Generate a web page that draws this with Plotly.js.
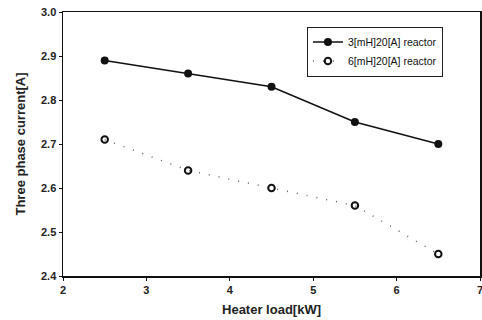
<!DOCTYPE html>
<html><head><meta charset="utf-8">
<script src="https://cdn.plot.ly/plotly-3.0.1.min.js"></script>
<style>body{margin:0;background:#fff}#c{width:482px;height:320px}</style>
</head><body><div id="c"></div>
<script>
const load = [2.5, 3.5, 4.5, 5.5, 6.5];
const current3mH = [2.89, 2.86, 2.83, 2.75, 2.70];
const current6mH = [2.71, 2.64, 2.60, 2.56, 2.45];
const name3 = '3[mH]20[A] reactor';
const name6 = '6[mH]20[A] reactor';

const traces = [
  {x: load, y: current3mH, name: name3, mode: 'lines+markers', type: 'scatter',
   line: {color: '#111', width: 1.5}, marker: {color: '#111', size: 8, symbol: 'circle'}},
  {x: load, y: current6mH, name: name6, mode: 'lines+markers', type: 'scatter',
   line: {color: '#666', width: 1.5, dash: '1px,9px'},
   marker: {color: '#111', size: 6.5, symbol: 'circle-open', line: {color: '#111', width: 2}}}
];
const font = {family: 'Liberation Sans, Arial, sans-serif', color: '#222'};
const layout = {
  width: 482, height: 320,
  margin: {l: 63, r: 2, t: 12, b: 44},
  paper_bgcolor: '#fff', plot_bgcolor: '#fff',
  font: font,
  showlegend: true,
  legend: {x: 0.585, y: 0.945, xanchor: 'left', yanchor: 'top',
    bordercolor: '#222', borderwidth: 1, bgcolor: '#fff',
    font: {family: font.family, size: 10.5, color: '#111'},
    tracegroupgap: 0, itemwidth: 30},
  xaxis: {range: [2, 7], dtick: 1, tick0: 2, showgrid: false, zeroline: false,
    showline: true, linecolor: '#111', linewidth: 1.5, mirror: true,
    ticks: 'outside', ticklen: 3, tickcolor: '#111', ticklabeloverflow: 'allow',
    tickfont: {family: font.family, size: 11, color: '#222', weight: 'bold'},
    title: {text: 'Heater load[kW]', font: {family: font.family, size: 13, color: '#222', weight: 'bold'}, standoff: 10}},
  yaxis: {range: [2.4, 3.0], dtick: 0.1, tick0: 2.4, tickformat: '.1f', showgrid: false, zeroline: false,
    showline: true, linecolor: '#111', linewidth: 1.5, mirror: true,
    ticks: 'outside', ticklen: 3, tickcolor: '#111',
    tickfont: {family: font.family, size: 11, color: '#222', weight: 'bold'},
    title: {text: 'Three phase current[A]', font: {family: font.family, size: 13, color: '#222', weight: 'bold'}, standoff: 12}}
};
Plotly.newPlot('c', traces, layout, {displayModeBar: false, staticPlot: true});
</script></body></html>
